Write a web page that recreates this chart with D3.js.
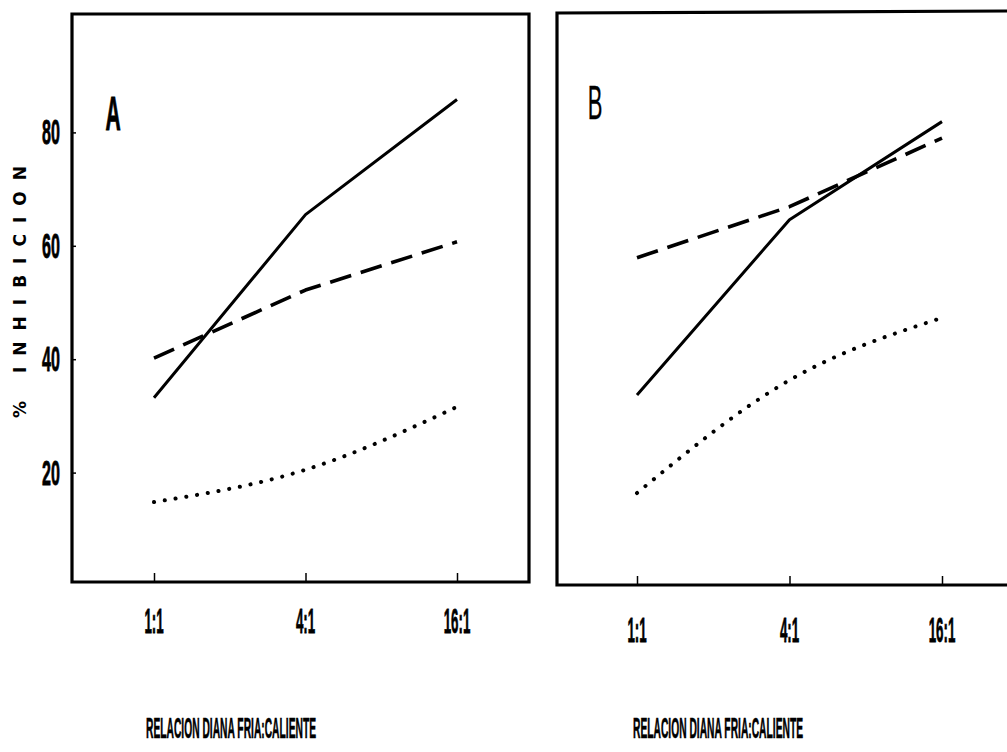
<!DOCTYPE html>
<html>
<head>
<meta charset="utf-8">
<script src="https://cdn.jsdelivr.net/npm/d3@7"></script>
<style>
  html, body { margin: 0; padding: 0; background: #fff; }
  svg { display: block; }
</style>
</head>
<body>
<svg id="chart" width="1007" height="752"></svg>
<script>
// Effector:target ratios on the x axis
const ratios = ["1:1", "4:1", "16:1"];
// Y axis tick values (% inhibition)
const yTicks = [20, 40, 60, 80];

// Panel A series (% inhibition)
const panelASolid  = [33.2, 65.5, 85.8];
const panelADashed = [40.2, 52.2, 60.7];
const panelADotted = [14.8, 20.5, 31.6];

// Panel B series (% inhibition)
const panelBSolid  = [33.7, 64.6, 81.9];
const panelBDashed = [57.9, 66.9, 79.0];
const panelBDotted = [16.4, 36.3, 47.3];

const panelLabels = ["A", "B"];
const xTitle = "RELACION DIANA FRIA:CALIENTE";
const yTitle = "% INHIBICION";

const svg = d3.select("#chart");
const ink = "#000";
const face = "'Liberation Sans', Arial, sans-serif";

// condensed lettering: draw normal text, squeeze horizontally.
// If fitWidth is given, the squeeze factor is chosen so the text spans that width.
function squeezedText(g, x, y, str, size, sx, opts = {}) {
  const t = g.append("text")
    .attr("text-anchor", opts.anchor || "middle")
    .attr("font-family", face)
    .attr("font-size", size)
    .attr("font-weight", opts.weight || "bold")
    .attr("fill", ink)
    .attr("stroke", ink)
    .attr("stroke-width", opts.stroke == null ? 0.8 : opts.stroke)
    .text(str);
  let k = sx;
  if (opts.fitWidth) {
    const w = t.node().getComputedTextLength();
    k = opts.fitWidth / w;
  }
  t.attr("transform", `translate(${x},${y}) scale(${k},1)`);
  return t;
}

const y = d3.scaleLinear().domain([0, 100]).range([586, 19]);

const panels = [
  { xRange: [154, 457], frame: { x0: 72, x1: 529, y0: 14, y1: 582 }, closed: true,
    series: [panelASolid, panelADashed, panelADotted], labelPos: [113, 130],
    tickLabelY: 633, titleX: 231, titleY: 738, showY: true, letterWeight: "bold", letterSx: 0.43 },
  { xRange: [637, 942], frame: { x0: 557, x1: 1007, y0: 13, y1: 585 }, closed: false,
    series: [panelBSolid, panelBDashed, panelBDotted], labelPos: [595, 119],
    tickLabelY: 642, titleX: 718, titleY: 738, showY: false, letterWeight: "normal", letterSx: 0.45 }
];

const styles = [
  { width: 3, dash: null, cap: "butt", curve: d3.curveLinear },
  { width: 3.6, dash: "22,10", cap: "butt", curve: d3.curveLinear },
  { width: 4, dash: "0.1,10.8", cap: "round", curve: d3.curveMonotoneX }
];

panels.forEach((p, pi) => {
  const g = svg.append("g");
  const x = d3.scalePoint().domain(ratios).range(p.xRange);
  const f = p.frame;

  // frame
  const framePath = d3.path();
  if (p.closed) {
    framePath.rect(f.x0, f.y0, f.x1 - f.x0, f.y1 - f.y0);
  } else {
    framePath.moveTo(f.x1, f.y0 - 2);
    framePath.lineTo(f.x0, f.y0);
    framePath.lineTo(f.x0, f.y1);
    framePath.lineTo(f.x1, f.y1);
  }
  g.append("path").attr("d", framePath.toString())
    .attr("fill", "none").attr("stroke", ink).attr("stroke-width", 3.2);

  // x ticks pointing inward from the bottom edge
  const xAxis = d3.axisBottom(x).tickSizeInner(-9).tickSizeOuter(0).tickFormat("");
  const xg = g.append("g").attr("transform", `translate(0,${f.y1})`).call(xAxis);
  xg.select(".domain").remove();
  xg.selectAll(".tick line").attr("stroke", ink).attr("stroke-width", 1.5);

  // x tick labels
  ratios.forEach(r => squeezedText(g, x(r), p.tickLabelY, r, 36, 0.37));

  // y ticks and labels
  if (p.showY) {
    const yAxis = d3.axisLeft(y).tickValues(yTicks).tickSizeInner(-4).tickSizeOuter(0).tickFormat("");
    const yg = g.append("g").attr("transform", `translate(${f.x0},0)`).call(yAxis);
    yg.select(".domain").remove();
    yg.selectAll(".tick line").attr("stroke", ink).attr("stroke-width", 1.5);
    yTicks.forEach(v => squeezedText(g, 51, y(v) + 12, String(v), 35, 0.46));
  }

  // series lines
  p.series.forEach((vals, si) => {
    const st = styles[si];
    const line = d3.line()
      .x((d, i) => x(ratios[i]))
      .y(d => y(d))
      .curve(st.curve);
    g.append("path").datum(vals)
      .attr("d", line)
      .attr("fill", "none")
      .attr("stroke", ink)
      .attr("stroke-width", st.width)
      .attr("stroke-linecap", st.cap)
      .attr("stroke-linejoin", "round")
      .attr("stroke-dasharray", st.dash);
  });

  // panel letter
  squeezedText(g, p.labelPos[0], p.labelPos[1], panelLabels[pi], 49, p.letterSx,
    { weight: p.letterWeight, stroke: pi === 0 ? 1 : 0.3 });

  // x title
  squeezedText(g, p.titleX, p.titleY, xTitle, 29, 1, { fitWidth: 170, stroke: 0.6 });
});

// y title, rotated and widely spaced
svg.append("text")
  .attr("transform", "translate(26,292) rotate(-90)")
  .attr("text-anchor", "middle")
  .attr("font-family", "'DejaVu Sans', sans-serif")
  .attr("font-size", 17)
  .attr("font-weight", "bold")
  .attr("textLength", 252)
  .attr("lengthAdjust", "spacing")
  .attr("fill", ink)
  .text(yTitle);
</script>
</body>
</html>
